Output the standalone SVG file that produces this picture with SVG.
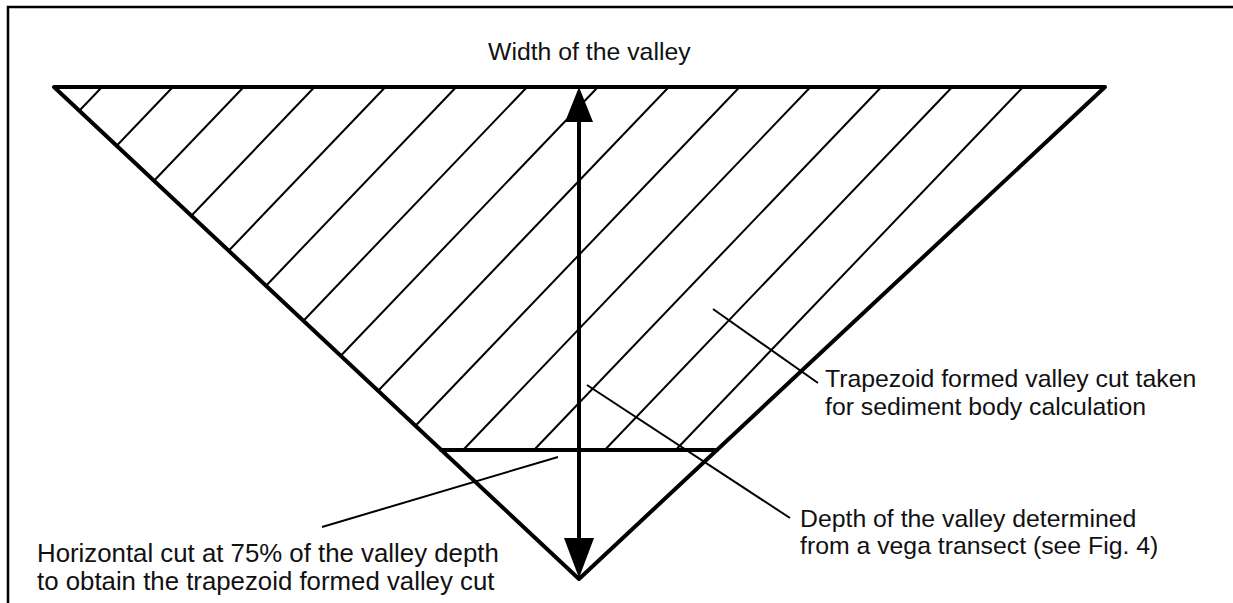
<svg xmlns="http://www.w3.org/2000/svg" width="1233" height="603" viewBox="0 0 1233 603">
<style>
.frame{fill:none;stroke:#000;stroke-width:2.5}
.thick{fill:none;stroke:#000;stroke-width:4;stroke-linejoin:round;stroke-linecap:round}
.hatch{stroke:#000;stroke-width:2}
.leader{stroke:#000;stroke-width:2}
.lbl{font-family:"Liberation Sans",Arial,sans-serif;font-size:24.8px;fill:#111}
</style>
<rect width="1233" height="603" fill="#fff"/>
<path class="frame" d="M8,603 V7 H1233"/>
<g id="hatching">
<line class="hatch" x1="102" y1="87" x2="79.3" y2="110.7"/>
<line class="hatch" x1="172.85" y1="87" x2="116.7" y2="145.7"/>
<line class="hatch" x1="243.7" y1="87" x2="154" y2="180.7"/>
<line class="hatch" x1="314.55" y1="87" x2="191.4" y2="215.7"/>
<line class="hatch" x1="385.4" y1="87" x2="228.7" y2="250.7"/>
<line class="hatch" x1="456.25" y1="87" x2="266.1" y2="285.7"/>
<line class="hatch" x1="527.1" y1="87" x2="303.5" y2="320.7"/>
<line class="hatch" x1="597.95" y1="87" x2="340.8" y2="355.7"/>
<line class="hatch" x1="668.8" y1="87" x2="378.2" y2="390.7"/>
<line class="hatch" x1="739.65" y1="87" x2="415.5" y2="425.7"/>
<line class="hatch" x1="810.5" y1="87" x2="463.1" y2="450"/>
<line class="hatch" x1="881.35" y1="87" x2="534" y2="450"/>
<line class="hatch" x1="952.2" y1="87" x2="604.8" y2="450"/>
<line class="hatch" x1="1023.05" y1="87" x2="675.7" y2="450"/>
</g>
<g id="valley">
<polygon class="thick" points="54,87 1105,87 579,579"/>
<line class="thick" x1="441" y1="450" x2="717" y2="450"/>
</g>
<g id="depth-arrow">
<line x1="579" y1="118" x2="579" y2="542" stroke="#000" stroke-width="4"/>
<polygon points="579,87 565,122 593,122" fill="#000"/>
<polygon points="579,578 564,538 594,538" fill="#000"/>
</g>
<g id="connectors">
<line class="leader" x1="713" y1="309" x2="818" y2="383"/>
<line class="leader" x1="587" y1="385" x2="790" y2="518"/>
<line class="leader" x1="558" y1="457" x2="322" y2="527"/>
</g>
<g id="label-width">
<text class="lbl" x="488" y="60">Width of the valley</text>
</g>
<g id="label-trapezoid">
<text class="lbl" x="825" y="387">Trapezoid formed valley cut taken</text>
<text class="lbl" x="825" y="415">for sediment body calculation</text>
</g>
<g id="label-depth">
<text class="lbl" x="800" y="527">Depth of the valley determined</text>
<text class="lbl" x="800" y="554">from a vega transect (see Fig. 4)</text>
</g>
<g id="label-cut">
<text class="lbl" x="37" y="562" style="font-size:25.8px">Horizontal cut at 75% of the valley depth</text>
<text class="lbl" x="37" y="590" style="font-size:25.8px">to obtain the trapezoid formed valley cut</text>
</g>
</svg>
